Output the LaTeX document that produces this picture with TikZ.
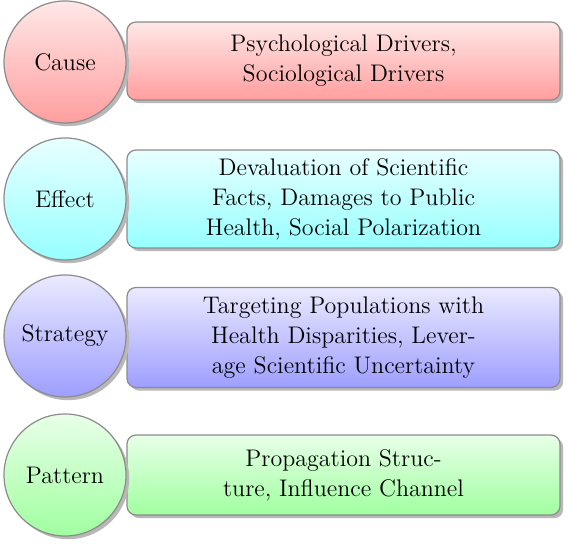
\documentclass[tikz,border=0pt]{standalone}
\usepackage{xcolor}
\usetikzlibrary{positioning, shadows}

\definecolor{causeTop}{RGB}{255,232,232}
\definecolor{causeBot}{RGB}{255,158,158}
\definecolor{effectTop}{RGB}{232,255,255}
\definecolor{effectBot}{RGB}{150,255,255}
\definecolor{strategyTop}{RGB}{234,234,255}
\definecolor{strategyBot}{RGB}{158,158,255}
\definecolor{patternTop}{RGB}{232,255,232}
\definecolor{patternBot}{RGB}{160,255,160}

\begin{document}
\begin{tikzpicture}[
    x=0.5pt, y=-0.5pt,
    font=\fontsize{12}{15}\selectfont,
    node_shadow/.style={drop shadow={shadow xshift=1.6pt, shadow yshift=-1.6pt, fill=black!28, opacity=1}},
    node_circle/.style={circle, draw=black!45, line width=0.6pt, minimum size=61pt, inner sep=0pt, node_shadow},
    node_box/.style={rectangle, rounded corners=4.5pt, draw=black!45, line width=0.6pt, minimum width=216.5pt, align=center, node_shadow}
]
\useasboundingbox (0,0) rectangle (568,544);
% cause
\node[node_box, minimum height=39pt, top color=causeTop, bottom color=causeBot] (cause_box) at (343.5,61) {Psychological Drivers,\\Sociological Drivers};
\node[node_circle, top color=causeTop, bottom color=causeBot] (cause) at (65,62) {Cause};
% effect
\node[node_box, minimum height=49pt, top color=effectTop, bottom color=effectBot] (effect_box) at (343.5,199) {Devaluation of Scientific\\Facts, Damages to Public\\Health, Social Polarization};
\node[node_circle, top color=effectTop, bottom color=effectBot] (effect) at (65,199) {Effect};
% strategy
\node[node_box, minimum height=50pt, top color=strategyTop, bottom color=strategyBot] (strategy_box) at (343.5,337.5) {Targeting Populations with\\Health Disparities, Lever-\\age Scientific Uncertainty};
\node[node_circle, top color=strategyTop, bottom color=strategyBot] (strategy) at (65,336) {Strategy};
% pattern
\node[node_box, minimum height=40pt, top color=patternTop, bottom color=patternBot] (pattern_box) at (343.5,475) {Propagation Struc-\\ture, Influence Channel};
\node[node_circle, top color=patternTop, bottom color=patternBot] (pattern) at (65,475) {Pattern};
\end{tikzpicture}
\end{document}
